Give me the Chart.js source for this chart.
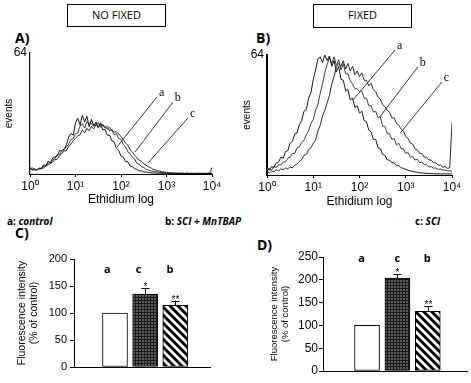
<!DOCTYPE html>
<html>
<head>
<meta charset="utf-8">
<script src="https://cdn.jsdelivr.net/npm/chart.js@4.4.1/dist/chart.umd.min.js"></script>
<style>
body { margin: 0; background: #fff; }
#page { position: relative; width: 471px; height: 383px; overflow: hidden; font-family: 'Open Sans', sans-serif; color: #000; }
canvas { position: absolute; left: 0; top: 0; }
.box { position: absolute; box-sizing: border-box; border: 1.5px solid #000; font-size: 11px; text-align: center; line-height: 20px; }
.lbl { position: absolute; font-weight: bold; font-size: 14px; line-height: 1; }
.leg { position: absolute; font-weight: bold; font-size: 10px; line-height: 1; white-space: nowrap; }
</style>
</head>
<body>
<div id="page">
  <div class="box" style="left:67px;top:4px;width:99px;height:23px;">NO FIXED</div>
  <div class="box" style="left:313px;top:4px;width:99px;height:24px;">FIXED</div>
  <div class="lbl" style="left:15px;top:31px;">A)</div>
  <div class="lbl" style="left:256px;top:31px;">B)</div>
  <div class="lbl" style="left:15px;top:226px;">C)</div>
  <div class="lbl" style="left:257px;top:238px;">D)</div>
  <div class="leg" style="left:7px;top:216px;">a: <i>control</i></div>
  <div class="leg" style="left:165px;top:216px;">b: <i>SCI + MnTBAP</i></div>
  <div class="leg" style="left:415px;top:216px;">c: <i>SCI</i></div>
  <canvas id="chartA" width="471" height="383"></canvas>
  <canvas id="chartB" width="471" height="383"></canvas>
  <canvas id="chartC" width="471" height="383"></canvas>
  <canvas id="chartD" width="471" height="383"></canvas>
</div>
<script>
Chart.defaults.font.family = '"Liberation Sans", Arial, sans-serif';
Chart.defaults.color = '#000';

// histogram channels: log10 of ethidium fluorescence, 0..4 every 0.05
var binStep = 0.05;
var decadeTicks = [0, 1, 2, 3, 4];
var supDigits = ['\u2070', '\u00b9', '\u00b2', '\u00b3', '\u2074'];

// A) no fixed - events per channel
var noFixedA = [3, 2, 2.8, 2, 3.2, 3, 4.8, 4.5, 6.8, 5.8, 8.5, 9, 9.5, 12.5, 12, 13, 15.5, 19.5, 21.5, 20.5,
    27, 29.5, 26, 31, 27.5, 30.5, 25, 29, 25.5, 27.5, 24.5, 26.5, 23.5, 23.5, 20.5, 20.5, 17.5, 17, 13.5, 12.5,
    9.5, 9, 6.5, 6.5, 4.2, 3.8, 2.8, 2.4, 1.6, 1.6, 1.1, 1.1, 0.7, 0.7, 0.5, 0.6, 0.4, 0.5, 0.4, 0.4,
    0.4, 0.3, 0.4, 0.3, 0.3, 0.4, 0.3, 0.3, 0.3, 0.4, 0.3, 0.3, 0.3, 0.3, 0.4, 0.3, 0.3, 0.3, 0.3, 0.3,
    0.3];
var noFixedB = [3.5, 2.2, 2.3, 2.2, 2.8, 2.8, 4.2, 4.2, 5.8, 6.2, 7.3, 8.2, 10.3, 10.2, 12.3, 13.2, 14.3, 15.7, 18.3, 18.7,
    21.3, 21.7, 25.3, 26.7, 24.3, 27.7, 26.3, 26.7, 25.3, 26.2, 27.3, 24.7, 26.3, 24.2, 25.3, 22.7, 23.8, 20.7, 21.3, 18.7,
    18.3, 15.7, 14.3, 11.7, 10.8, 8.7, 7.8, 5.7, 5.2, 3.8, 3.6, 2.4, 2.1, 1.7, 1.5, 1.1, 1.1, 0.7, 0.8, 0.6,
    0.5, 0.5, 0.4, 0.4, 0.4, 0.3, 0.4, 0.3, 0.3, 0.3, 0.3, 0.4, 0.3, 0.3, 0.3, 0.3, 0.3, 0.3, 0.3, 0.3,
    0.3];
var noFixedC = [3, 3.2, 2.3, 2.2, 2.8, 2.7, 3.3, 4.2, 4.8, 5.7, 6.3, 7.7, 7.8, 9.7, 10.8, 12.2, 12.3, 14.7, 15.8, 17.7,
    18.8, 20.2, 20.8, 23.2, 21.8, 24.2, 22.8, 25.2, 23.8, 26.2, 24.8, 27.2, 25.3, 25.2, 23.8, 24.7, 22.8, 22.2, 22.3, 21.2,
    19.8, 18.2, 16.3, 15.2, 12.8, 11.7, 9.8, 8.7, 7.3, 6.7, 5.3, 4.7, 3.8, 3.4, 2.5, 2.3, 1.7, 1.6, 1.1, 1.1,
    0.8, 0.7, 0.6, 0.5, 0.5, 0.4, 0.4, 0.4, 0.3, 0.4, 0.3, 0.3, 0.3, 0.3, 0.3, 0.3, 0.3, 0.3, 0.3, 0.4,
    3.5];

// B) fixed
var fixedA = [4, 2.5, 4.5, 4, 6.5, 7, 9.5, 9, 12.5, 13, 17, 18, 22, 22.5, 27, 29, 34, 35, 41, 44,
    51, 56, 62, 63, 60, 64, 61, 63.5, 58, 61, 55, 58, 51, 50.5, 45, 45.5, 40, 41, 36, 37,
    33, 34, 29, 28.5, 24, 23, 19, 19, 14.5, 14, 11, 10.5, 8, 8, 6.5, 6.5, 5, 5, 3.8, 3.6,
    3, 2.6, 2.2, 2, 1.6, 1.5, 1.2, 1.1, 1, 0.9, 0.8, 0.7, 0.7, 0.6, 0.6, 0.6, 0.6, 0.6, 0.6, 0.6,
    0.6];
var fixedB = [2.5, 3.5, 2.5, 4.5, 4, 5.5, 5.5, 7, 7, 9, 9.5, 11.5, 11.5, 14.5, 15, 17.5, 18.5, 21.5, 23.5, 27.5,
    29.5, 34.5, 37.5, 43.5, 48.5, 54.5, 59, 62.5, 59.5, 63, 58.5, 61.5, 56, 59.5, 54, 54, 50, 48.5, 46, 46,
    44.5, 45, 41, 41, 37, 37, 33.5, 34, 30.5, 31, 26, 26, 22, 22, 19, 19.5, 16, 17, 14, 14,
    11.5, 12, 9.5, 10, 8, 8.5, 6.5, 7, 5.5, 5.5, 4.2, 4.5, 3.6, 3.8, 3, 3.2, 2.6, 2.7, 2.2, 2.3,
    2];
var fixedC = [2, 1.2, 2.2, 1.8, 2.8, 2.2, 3.3, 2.8, 3.8, 3.3, 4.3, 3.8, 5.3, 5.8, 7.3, 8.2, 10.5, 11, 13.5, 14.5,
    17, 18.5, 23.5, 26.5, 31.5, 34.5, 38.5, 42.5, 48.5, 52.5, 57.5, 59.5, 58, 61, 56.5, 59.5, 55.5, 58, 53.5, 55.5,
    52.5, 54.5, 50.5, 50.5, 47.5, 49, 45.5, 44.5, 41.5, 40.5, 37.5, 36.5, 34.5, 33.5, 30.5, 30.5, 27.5, 26.5, 24.5, 23.5,
    20.5, 19.5, 17, 16.5, 14, 13.5, 11.5, 11.5, 9.5, 9.5, 8, 8, 6.5, 6.5, 5.2, 5.4, 4.2, 4.5, 3.6, 3.8,
    28];

// pointer lines for the curve letters [log x, events]
var tagsA = [
    { tag: 'a', from: [1.91, 14.3], to: [2.79, 40.7] },
    { tag: 'b', from: [2.31, 11.6], to: [3.14, 38] },
    { tag: 'c', from: [2.59, 5.8], to: [3.47, 29.6] }
];
var tagsB = [
    { tag: 'a', from: [1.86, 40], to: [2.77, 66.7] },
    { tag: 'b', from: [2.44, 31], to: [3.26, 57.6] },
    { tag: 'c', from: [2.88, 22.4], to: [3.78, 49.6] }
];

// C) and D) fluorescence intensity, % of control
var groups = ['a', 'c', 'b'];
var valuesC = [100, 135, 114];
var errorsC = [0, 11, 9];
var valuesD = [100, 204, 131];
var errorsD = [0, 9, 11];
var stars = ['', '*', '**'];

var curveColors = ['#151515', '#3a3a3a', '#2a2a2a'];

function toPoints(values) {
    return values.map(function(v, i) { return { x: i * binStep, y: v }; });
}

function tagPlugin(tags) {
    return {
        id: 'tagLetters',
        afterDatasetsDraw: function(chart) {
            var ctx = chart.ctx, x = chart.scales.x, y = chart.scales.y;
            ctx.save();
            ctx.font = '12px "Liberation Serif", serif';
            ctx.fillStyle = '#000';
            ctx.textAlign = 'left';
            ctx.textBaseline = 'middle';
            tags.forEach(function(t) {
                ctx.fillText(t.tag, x.getPixelForValue(t.to[0]) + 2, y.getPixelForValue(t.to[1]) - 4);
            });
            ctx.restore();
        }
    };
}

function histogram(id, curves, tags, pad, yWidth, xHeight, yBorder) {
    var datasets = curves.map(function(vals, i) {
        return { data: toPoints(vals), borderColor: curveColors[i], borderWidth: 1, pointRadius: 0, tension: 0 };
    });
    tags.forEach(function(t) {
        datasets.push({
            data: [{ x: t.from[0], y: t.from[1] }, { x: t.to[0], y: t.to[1] }],
            borderColor: '#000', borderWidth: 0.8, pointRadius: 0, clip: false
        });
    });
    return new Chart(document.getElementById(id), {
        type: 'line',
        data: { datasets: datasets },
        options: {
            responsive: false,
            animation: false,
            events: [],
            layout: { padding: pad },
            plugins: { legend: { display: false }, tooltip: { enabled: false } },
            scales: {
                x: {
                    type: 'linear', min: 0, max: 4,
                    afterFit: function(s) { s.height = xHeight; },
                    afterBuildTicks: function(s) { s.ticks = decadeTicks.map(function(v) { return { value: v }; }); },
                    ticks: { callback: function(v) { return '10' + supDigits[v]; }, font: { size: 12 }, padding: 2, maxRotation: 0, autoSkip: false },
                    grid: { drawOnChartArea: false, drawTicks: true, tickLength: 3, color: '#000' },
                    border: { color: '#000', width: 1 },
                    title: { display: true, text: 'Ethidium log', font: { size: 12 }, padding: { top: 0, bottom: 4 } }
                },
                y: {
                    min: 0, max: 64,
                    afterFit: function(s) { s.width = yWidth; },
                    ticks: { stepSize: 16, callback: function(v) { return v === 64 ? '64' : ''; }, font: { size: 12 }, padding: 3 },
                    grid: { drawOnChartArea: false, drawTicks: false },
                    border: { color: '#000', width: yBorder },
                    title: { display: true, text: 'events', font: { size: 10 }, padding: { top: 3, bottom: 0 } }
                }
            }
        },
        plugins: [tagPlugin(tags)]
    });
}

function makeTile(w, h, draw) {
    var c = document.createElement('canvas');
    c.width = w; c.height = h;
    draw(c.getContext('2d'));
    return c;
}

var gridTile = makeTile(3, 3, function(g) {
    g.fillStyle = '#5e5e5e'; g.fillRect(0, 0, 3, 3);
    g.fillStyle = '#1a1a1a'; g.fillRect(0, 0, 3, 1); g.fillRect(0, 0, 1, 3);
});
var stripeTile = makeTile(8, 8, function(g) {
    g.fillStyle = '#fff'; g.fillRect(0, 0, 8, 8);
    g.strokeStyle = '#000'; g.lineWidth = 2.8;
    [-8, 0, 8].forEach(function(k) {
        g.beginPath(); g.moveTo(k - 2, -2); g.lineTo(k + 10, 10); g.stroke();
    });
});

function barPanel(id, values, errors, cfg) {
    var ctx = document.getElementById(id).getContext('2d');
    var fills = ['#fff', ctx.createPattern(gridTile, 'repeat'), ctx.createPattern(stripeTile, 'repeat')];
    var marks = {
        id: 'barMarks',
        afterDatasetsDraw: function(chart) {
            var c = chart.ctx, x = chart.scales.x, y = chart.scales.y;
            c.save();
            c.strokeStyle = '#000'; c.fillStyle = '#000'; c.lineWidth = 1;
            values.forEach(function(v, i) {
                var px = Math.round(x.getPixelForValue(i + 1)) + 0.5;
                var top = y.getPixelForValue(v + errors[i]);
                if (errors[i]) {
                    c.beginPath();
                    c.moveTo(px, y.getPixelForValue(v)); c.lineTo(px, top);
                    c.moveTo(px - 4, Math.round(top) + 0.5); c.lineTo(px + 4, Math.round(top) + 0.5);
                    c.stroke();
                }
                if (stars[i]) {
                    c.font = '10px "Liberation Sans", sans-serif';
                    c.textAlign = 'center'; c.textBaseline = 'alphabetic';
                    c.fillText(stars[i], px, top + 2);
                }
                c.font = 'bold 11px "Open Sans", sans-serif';
                c.textAlign = 'center'; c.textBaseline = 'middle';
                c.fillText(groups[i], x.getPixelForValue(cfg.letterX[i]), y.getPixelForValue(cfg.letterY));
            });
            c.restore();
        }
    };
    return new Chart(ctx, {
        type: 'bar',
        data: {
            datasets: [{
                data: values.map(function(v, i) { return { x: i + 1, y: v }; }),
                backgroundColor: fills,
                borderColor: '#000',
                borderWidth: 1,
                borderSkipped: false,
                barThickness: 25
            }]
        },
        options: {
            responsive: false,
            animation: false,
            events: [],
            layout: { padding: cfg.pad },
            plugins: { legend: { display: false }, tooltip: { enabled: false } },
            scales: {
                x: {
                    type: 'linear', min: cfg.xRange[0], max: cfg.xRange[1],
                    afterFit: function(s) { s.height = 2; },
                    ticks: { display: false },
                    grid: { display: false },
                    border: { color: '#000', width: 1 }
                },
                y: {
                    min: 0, max: cfg.yMax,
                    afterFit: function(s) { s.width = cfg.yWidth; },
                    ticks: { stepSize: 50, font: { size: cfg.tickSize }, padding: cfg.tickPad },
                    grid: { drawOnChartArea: false, drawTicks: true, tickLength: 4, color: '#000' },
                    border: { color: '#000', width: 1 },
                    title: { display: true, text: ['Fluorescence intensity', '(% of control)'], font: { size: cfg.titleSize, lineHeight: 1.15 }, padding: { top: 2, bottom: 0 } }
                }
            }
        },
        plugins: [marks]
    });
}

histogram('chartA', [noFixedA, noFixedB, noFixedC], tagsA, { left: 0, top: 53, right: 259, bottom: 172 }, 30, 37, 1.2);
histogram('chartB', [fixedA, fixedB, fixedC], tagsB, { left: 238, top: 55, right: 19, bottom: 170 }, 29, 38, 2);

barPanel('chartC', valuesC, errorsC, {
    pad: { left: 14, top: 259, right: 261, bottom: 14 },
    yWidth: 60, yMax: 200, xRange: [0.392, 3.4], tickSize: 11, tickPad: 3, titleSize: 10.5,
    letterX: [0.746, 1.786, 2.826], letterY: 179
});
barPanel('chartD', valuesD, errorsD, {
    pad: { left: 267, top: 257, right: 4, bottom: 10 },
    yWidth: 56, yMax: 250, xRange: [0.34, 3.5], tickSize: 12, tickPad: 1, titleSize: 9.5,
    letterX: [0.823, 2.0, 2.98], letterY: 245
});
</script>
</body>
</html>
